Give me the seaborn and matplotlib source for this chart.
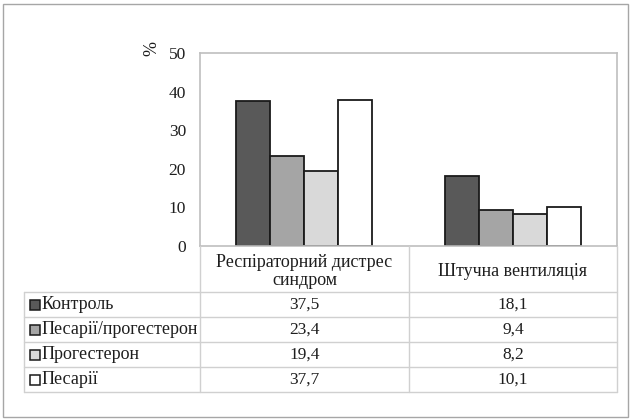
import matplotlib
matplotlib.use("Agg")
import matplotlib.pyplot as plt
from matplotlib.lines import Line2D
from matplotlib.patches import Rectangle
import seaborn as sns
import pandas as pd

categories = ["Респіраторний дистрес\nсиндром", "Штучна вентиляція"]
groups = ["Контроль", "Песарії/прогестерон", "Прогестерон", "Песарії"]
kontrol = [37.5, 18.1]
pesarii_progesteron = [23.4, 9.4]
progesteron = [19.4, 8.2]
pesarii = [37.7, 10.1]
colors = ["#595959", "#A5A5A5", "#D9D9D9", "#FFFFFF"]
yticks = [0, 10, 20, 30, 40, 50]

series = [kontrol, pesarii_progesteron, progesteron, pesarii]
df = pd.DataFrame(
    [(c, g, v) for g, vals in zip(groups, series) for c, v in zip(categories, vals)],
    columns=["category", "group", "value"],
)

sns.set_theme(style="white")
plt.rcParams["font.family"] = ["Liberation Serif", "DejaVu Serif"]

TXT = "#1e1e1e"
W, H = 632, 420
fig = plt.figure(figsize=(W / 100, H / 100), dpi=100)

# plot area in pixel coordinates
L, R, T, B = 200, 617, 53, 246
ax = fig.add_axes([L / W, (H - B) / H, (R - L) / W, (B - T) / H])

sns.barplot(data=df, x="category", y="value", hue="group", order=categories,
            hue_order=groups, palette=colors, width=0.65, gap=0,
            edgecolor="#1a1a1a", linewidth=1.3, saturation=1, ax=ax, legend=False)

ax.set_ylim(0, 50)
ax.set_yticks(yticks)
ax.set_yticklabels([str(t) for t in yticks], fontsize=12.5)
ax.set_xticks([])
ax.set_xlabel("")
ax.set_ylabel("")
ax.tick_params(axis="y", length=0, pad=10, colors=TXT)
for s in ax.spines.values():
    s.set_color("#BFBFBF")
    s.set_linewidth(1.2)
    s.set_visible(True)

fig.text(152 / W, 1 - 48 / H, "%", rotation=90, ha="center", va="center",
         fontsize=13, color=TXT)

# data table below the plot
def px_line(x0, y0, x1, y1, color="#D0D0D0", lw=1.0):
    fig.add_artist(Line2D([x0 / W, x1 / W], [1 - y0 / H, 1 - y1 / H],
                          transform=fig.transFigure, color=color, lw=lw))

col_x = [L, 409, R]
label_left = 24
row_y = [B, 292, 317, 342, 367, 392]

px_line(L, B, L, row_y[-1])
px_line(col_x[1], B, col_x[1], row_y[-1])
px_line(R, B, R, row_y[-1])
for y in row_y[1:]:
    px_line(label_left, y, R, y)
px_line(label_left, row_y[1], label_left, row_y[-1])

for i, cat in enumerate(categories):
    cx = (col_x[i] + col_x[i + 1]) / 2
    cy = (row_y[0] + row_y[1]) / 2 + 2.5
    fig.text(cx / W, 1 - cy / H, cat, ha="center", va="center", fontsize=13,
             color=TXT, linespacing=1.15)

for r, (g, vals, col) in enumerate(zip(groups, series, colors)):
    cy = (row_y[r + 1] + row_y[r + 2]) / 2
    fig.add_artist(Rectangle(((label_left + 6) / W, 1 - (cy + 5) / H), 10 / W, 10 / H,
                             transform=fig.transFigure, facecolor=col,
                             edgecolor="#1a1a1a", lw=1.1))
    fig.text((label_left + 17.5) / W, 1 - cy / H, g, ha="left", va="center",
             fontsize=13, color=TXT)
    for i, v in enumerate(vals):
        cx = (col_x[i] + col_x[i + 1]) / 2
        fig.text(cx / W, 1 - cy / H, f"{v:.1f}".replace(".", ","), ha="center",
                 va="center", fontsize=12.5, color=TXT)

# outer frame
fig.add_artist(Rectangle((3 / W, 3 / H), (W - 7) / W, (H - 7) / H,
                         transform=fig.transFigure, fill=False,
                         edgecolor="#A6A6A6", lw=1.0))

fig.savefig("out.png", dpi=100)
